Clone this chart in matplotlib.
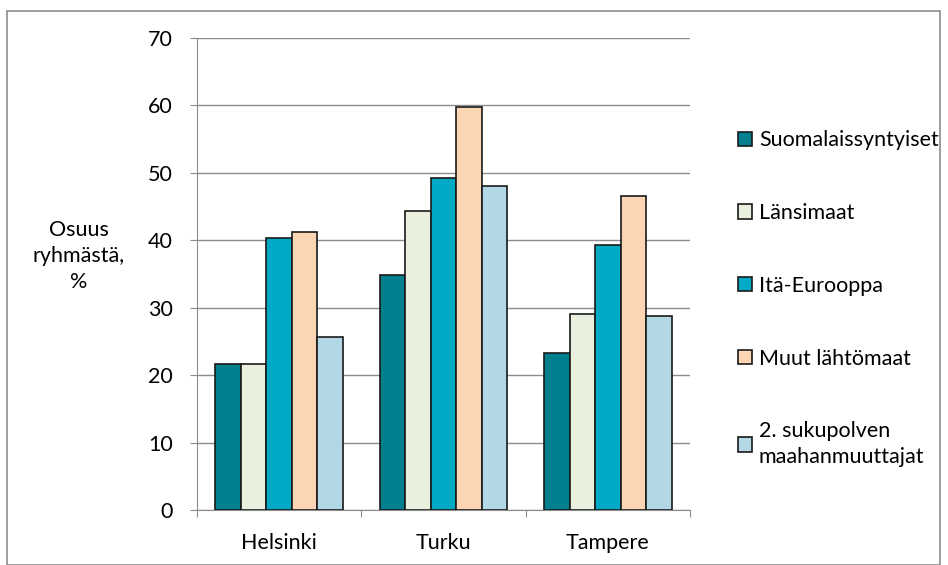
import matplotlib
matplotlib.use("Agg")
import matplotlib.pyplot as plt
import numpy as np
from matplotlib.patches import Rectangle

cities = ["Helsinki", "Turku", "Tampere"]
series = ["Suomalaissyntyiset", "Länsimaat", "Itä-Eurooppa", "Muut lähtömaat",
          "2. sukupolven\nmaahanmuuttajat"]
suomalais = [21.6, 34.8, 23.3]
lansimaat = [21.7, 44.3, 29.1]
ita_eurooppa = [40.4, 49.2, 39.3]
muut = [41.3, 59.8, 46.6]
toinen_sukupolvi = [25.7, 48.0, 28.8]
yticks = [0, 10, 20, 30, 40, 50, 60, 70]

values = [suomalais, lansimaat, ita_eurooppa, muut, toinen_sukupolvi]
colors = ["#00808F", "#EAF0DE", "#00AAC4", "#FCD5B5", "#B3D8E5"]

FS = 15.5
plt.rcParams['font.family'] = ['Lato', 'DejaVu Sans']
fig = plt.figure(figsize=(9.48, 5.65), dpi=100)
ax = fig.add_axes([197/948, 1-510/565, (690-197)/948, (510-38)/565])

x = np.arange(len(cities))
w = 0.155
for i, (vals, c) in enumerate(zip(values, colors)):
    ax.bar(x + (i - 2) * w, vals, width=w, color=c, edgecolor="#1a1a1a",
           linewidth=1.2, label=series[i], zorder=3)

ax.set_xlim(-0.5, 2.5)
ax.set_ylim(0, 70)
ax.set_yticks(yticks)
ax.yaxis.grid(True, color="#8c8c8c", linewidth=1.0, zorder=0)
ax.set_axisbelow(True)
for s in ["top", "right"]:
    ax.spines[s].set_visible(False)
for s in ["left", "bottom"]:
    ax.spines[s].set_color("#8c8c8c")
ax.tick_params(axis="y", direction="out", length=5, color="#8c8c8c",
               labelsize=FS, pad=12.5)
ax.set_xticks([-0.5, 0.5, 1.5, 2.5])
ax.set_xticklabels([])
ax.set_xticks(x, minor=True)
ax.set_xticklabels(cities, minor=True)
ax.tick_params(axis="x", which="major", direction="out", length=5, color="#8c8c8c")
ax.tick_params(axis="x", which="minor", length=0, labelsize=FS, pad=16.5)

fig.text(79/948, 1-256/565, "Osuus\nryhmästä,\n%", ha="center", va="center",
         fontsize=FS, linespacing=1.35)

leg = fig.legend(loc="upper left", bbox_to_anchor=(719/948, 1-111/565),
                 frameon=False, fontsize=FS, handlelength=0.65, handleheight=0.65,
                 handletextpad=0.3, labelspacing=2.45)
for h in leg.legend_handles:
    h.set_linewidth(1.2)
for t in leg.get_texts():
    t.set_linespacing(1.35)

fig.patches.append(Rectangle((7/948, 0), 933/948, 1-11/565, transform=fig.transFigure,
                             fill=False, edgecolor="#8c8c8c", linewidth=1.2))
fig.savefig("out.png", dpi=100)
